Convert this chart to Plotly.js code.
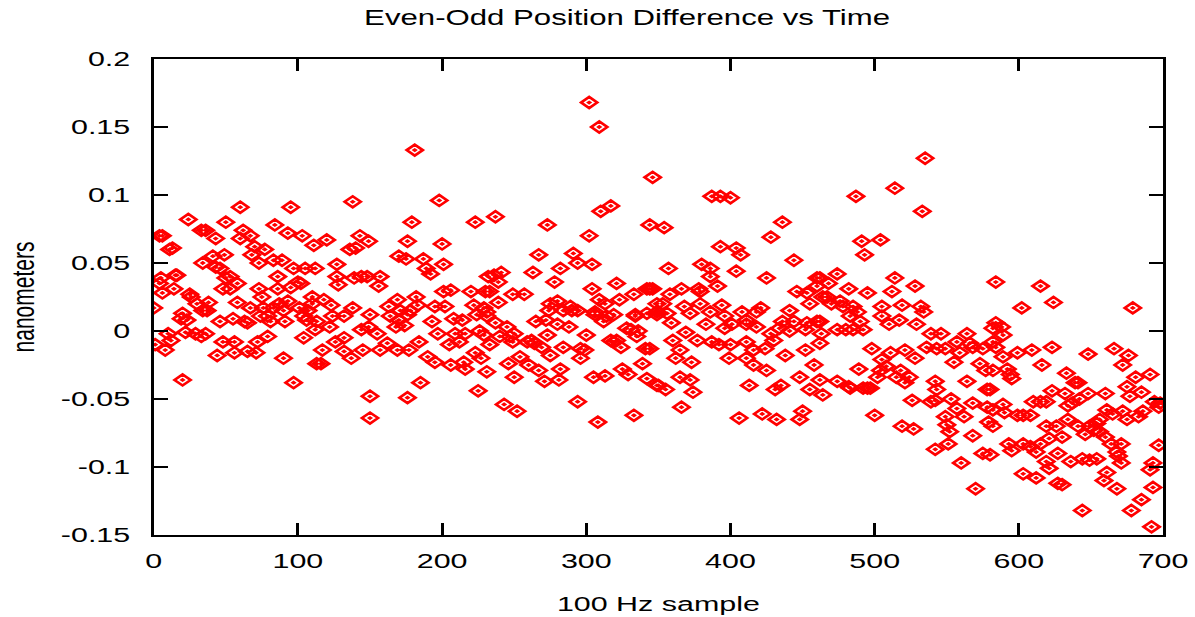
<!DOCTYPE html>
<html>
<head>
<meta charset="utf-8">
<script src="https://cdn.plot.ly/plotly-3.0.1.min.js"></script>
<style>
html,body{margin:0;padding:0;overflow:hidden;background:#fff;width:1195px;height:617px;}
#wrap{width:1195px;height:617px;overflow:hidden;}
#chart{width:824px;height:617px;transform:scaleX(1.4502);transform-origin:0 0;}
</style>
</head>
<body>
<div id="wrap"><div id="chart"></div></div>
<script>
const sampleIndex = [
0,1,4,6,5,4,6,8,10,12,11,13,14,15,16,19,20,20,23,24,25,26,22,29,30,33,34,34,33,36,36,37,38,41,43,43,44,46,46,48,48,49,50,50,53,53,55,56,56,58,58,60,60,62,63,65,65,67,67,68,70,71,72,73,73,74,75,76,77,79,79,81,83,83,84,86,86,87,89,90,90,91,93,93,95,95,97,97,100,101,102,103,104,104,105,107,106,110,110,111,112,112,113,113,116,117,
118,120,122,123,124,126,127,127,128,132,132,132,137,136,138,138,139,140,143,144,144,145,148,149,149,150,150,150,155,156,157,157,162,163,164,168,169,169,170,170,171,174,175,176,176,176,177,178,179,181,182,183,184,185,187,189,190,192,193,195,195,197,198,200,201,201,202,205,206,206,208,209,212,214,215,216,216,220,222,223,223,224,225,226,227,229,229,230,231,231,231,232,233,233,
236,237,237,239,239,240,241,243,245,246,247,249,249,250,250,252,254,257,259,260,262,263,264,265,267,267,269,271,272,273,273,274,275,275,278,280,280,281,282,282,284,284,288,289,290,291,294,294,294,296,296,299,300,302,302,304,304,305,306,306,308,309,309,310,312,313,313,314,317,317,319,319,321,321,323,324,325,328,329,331,333,333,334,334,335,336,339,341,342,342,342,344,344,344,346,346,349,349,349,349,
350,353,354,355,356,357,358,359,360,362,365,365,366,366,368,369,372,372,373,374,377,378,379,379,380,383,386,386,386,387,387,391,392,393,393,394,396,396,399,400,400,401,404,404,406,407,408,411,411,411,411,413,416,416,418,418,421,422,424,425,425,428,428,430,431,432,434,435,436,436,438,441,441,444,444,446,448,448,450,452,452,453,453,455,455,458,460,460,460,462,462,462,462,463,464,464,
467,468,470,474,474,474,476,478,480,482,482,483,483,485,485,487,488,489,490,491,492,492,493,495,495,497,498,500,502,504,504,505,505,505,508,510,511,512,514,514,515,517,518,519,519,521,521,524,526,527,528,528,529,532,533,534,535,536,539,539,542,542,542,543,543,546,549,549,550,551,552,553,555,557,557,559,560,562,564,564,566,568,568,568,570,573,575,575,577,578,578,579,
580,580,582,582,582,582,582,584,584,584,588,589,589,589,590,592,593,594,595,595,599,599,602,603,603,603,608,608,609,610,612,612,615,615,615,616,619,619,619,621,621,623,623,624,626,627,627,630,630,632,633,634,634,636,637,639,641,641,642,644,644,646,648,648,649,649,652,654,654,656,656,659,660,660,661,661,664,665,666,668,668,669,671,671,672,672,675,675,676,677,678,679,681,683,685,685,686,691,691,692,693,693,694,697,698,697
];
const positionDiff = [
0.017,-0.010,0.070,0.070,0.039,0.035,0.028,-0.014,-0.002,-0.007,0.060,0.061,0.031,0.041,0.041,0.009,0.013,-0.036,0.008,0.082,0.027,0.025,-0.001,-0.002,0.020,-0.004,0.050,0.015,0.074,0.074,-0.002,0.015,0.021,0.055,0.068,0.047,-0.018,0.046,0.007,0.031,-0.008,0.056,0.080,0.039,0.040,0.031,0.009,-0.008,-0.016,0.035,0.021,0.091,0.068,0.074,0.007,0.006,-0.015,0.070,0.017,0.056,0.062,-0.016,-0.008,0.031,0.050,0.011,0.025,0.017,0.060,0.011,-0.004,0.007,0.052,0.017,0.078,0.040,0.031,0.020,0.052,0.015,-0.020,0.007,0.072,0.022,0.032,0.091,0.046,-0.038,0.036,0.017,0.035,0.070,0.011,-0.005,0.046,0.015,0.008,0.025,0.020,0.063,0.046,0.001,-0.024,0.007,-0.024,-0.014,
0.023,0.067,0.003,0.019,0.011,-0.008,0.049,0.040,0.034,0.011,-0.005,-0.015,-0.020,0.060,0.095,0.017,0.039,0.061,0.070,0.040,0.001,-0.014,0.040,0.066,0.003,0.012,-0.048,-0.064,-0.002,0.033,0.040,-0.014,-0.009,0.018,0.011,0.003,0.023,-0.014,0.055,0.008,0.015,0.004,0.053,0.066,0.012,-0.049,-0.014,0.015,0.080,0.133,0.025,0.019,-0.008,-0.038,0.053,0.046,-0.019,0.042,0.007,0.018,-0.023,-0.002,0.096,0.064,0.049,0.029,0.018,-0.010,0.030,-0.025,0.009,-0.002,-0.008,0.008,-0.023,-0.002,-0.028,0.029,0.019,0.080,-0.016,0.012,-0.044,0.000,-0.020,0.017,-0.003,0.029,0.014,0.011,-0.030,0.040,0.029,-0.010,
0.041,0.084,0.006,0.036,0.021,-0.004,0.043,-0.054,0.003,-0.024,-0.004,0.027,-0.008,-0.002,-0.034,-0.059,-0.019,0.027,-0.008,-0.025,-0.007,0.043,-0.009,0.007,0.056,-0.029,-0.012,-0.037,0.008,0.078,-0.003,0.015,0.020,-0.018,0.036,0.022,0.005,-0.036,0.046,-0.028,0.015,-0.012,0.003,0.018,0.015,0.057,0.050,0.015,-0.052,-0.013,-0.020,-0.014,-0.003,0.168,0.070,0.049,0.031,-0.034,0.014,0.012,-0.067,0.150,0.023,0.088,0.007,0.020,-0.033,0.011,0.092,-0.007,0.012,-0.008,0.035,-0.007,0.023,-0.012,-0.028,0.002,-0.032,0.001,0.027,-0.062,0.011,0.012,-0.004,0.000,-0.024,-0.013,0.031,0.013,-0.035,0.078,0.031,-0.013,0.113,0.031,0.014,0.020,0.012,-0.040,
-0.040,0.020,0.076,-0.043,0.013,0.046,0.027,0.006,-0.007,-0.020,-0.014,-0.034,0.031,-0.056,0.018,-0.001,0.013,-0.036,-0.023,-0.045,-0.007,0.031,0.029,0.020,0.049,0.005,0.046,0.040,0.014,0.099,-0.008,0.033,-0.010,0.099,0.062,0.019,0.011,0.002,-0.020,0.098,-0.010,0.005,0.061,0.044,-0.064,0.056,0.014,0.008,0.005,-0.008,-0.020,-0.040,-0.014,-0.025,0.014,0.003,0.017,-0.061,-0.013,0.039,-0.029,0.069,-0.002,-0.007,-0.043,-0.065,0.002,-0.040,0.080,0.007,-0.018,0.015,0.000,0.007,0.052,0.029,-0.034,-0.065,-0.059,0.001,-0.014,0.028,0.006,0.020,-0.043,-0.025,0.039,0.033,0.007,0.039,0.007,-0.009,-0.036,-0.002,0.025,-0.047,
0.025,0.035,0.020,0.042,0.001,-0.037,0.022,0.018,0.001,0.031,-0.041,0.011,-0.042,0.018,0.001,0.099,0.014,-0.028,0.007,0.066,0.001,-0.042,0.056,0.028,-0.042,-0.042,-0.013,-0.062,-0.034,0.067,-0.029,0.018,0.011,-0.021,-0.026,0.005,-0.016,0.029,0.105,0.039,-0.034,0.008,-0.029,0.019,-0.070,-0.014,-0.038,-0.034,-0.051,-0.072,0.033,-0.020,0.005,0.018,0.088,0.014,0.127,-0.012,-0.002,-0.052,-0.037,-0.051,-0.087,-0.013,-0.043,-0.002,-0.013,-0.063,-0.069,-0.083,-0.074,-0.050,-0.023,-0.008,-0.057,-0.016,-0.097,-0.063,-0.002,-0.037,-0.009,-0.012,-0.053,-0.077,-0.116,-0.024,-0.013,-0.090,-0.029,-0.043,-0.056,-0.067,
-0.043,-0.091,0.002,-0.008,-0.058,-0.070,-0.029,0.006,0.036,-0.012,0.003,-0.003,-0.019,-0.054,-0.060,-0.028,-0.083,-0.032,-0.035,-0.088,-0.016,-0.062,0.017,-0.062,-0.083,-0.105,-0.062,-0.085,-0.014,-0.052,-0.089,-0.108,0.033,-0.052,-0.083,-0.025,-0.052,-0.070,-0.096,-0.079,-0.101,-0.012,-0.044,0.021,-0.070,-0.090,-0.112,-0.078,-0.113,-0.046,-0.031,-0.065,-0.055,-0.096,-0.053,-0.038,-0.038,-0.070,-0.050,-0.094,-0.132,-0.076,-0.017,-0.046,-0.070,-0.095,-0.073,-0.068,-0.094,-0.074,-0.065,-0.110,-0.078,-0.046,-0.058,-0.104,-0.083,-0.061,-0.013,-0.089,-0.116,-0.092,-0.083,-0.097,-0.025,-0.059,-0.065,-0.041,-0.018,-0.048,-0.132,0.017,-0.034,-0.063,-0.045,-0.124,-0.059,-0.032,-0.102,-0.144,-0.097,-0.115,-0.052,-0.056,-0.053,-0.084
];
const xTickVals = [0,100,200,300,400,500,600,700];
const xTickText = ["0","100","200","300","400","500","600","700"];
const yTickVals = [-0.15,-0.1,-0.05,0,0.05,0.1,0.15,0.2];
const yTickText = ["-0.15","-0.1","-0.05","0","0.05","0.1","0.15","0.2"];

const font = "Liberation Sans, Arial, Helvetica, sans-serif";
const trace = {
  x: sampleIndex, y: positionDiff, type: "scatter", mode: "markers",
  marker: {symbol: "diamond-open-dot", size: 8.5, color: "#ff0000", line: {color: "#ff0000", width: 2.3}},
  hoverinfo: "x+y", showlegend: false
};
const axisCommon = {
  showline: true, linecolor: "#000", linewidth: 2, mirror: "ticks",
  ticks: "inside", tickcolor: "#000", tickwidth: 2,
  showgrid: false, zeroline: false,
  tickfont: {family: font, size: 21, color: "#000"}
};
const layout = {
  width: 824, height: 617,
  margin: {l: 105.5, r: 22, t: 59, b: 82},
  paper_bgcolor: "#fff", plot_bgcolor: "#fff",
  title: {text: "Even-Odd Position Difference vs Time", font: {family: font, size: 21.5, color: "#000"},
          x: 0.469, xref: "paper", xanchor: "center", y: 0.971, yref: "container", yanchor: "middle"},
  xaxis: Object.assign({}, axisCommon, {
    range: [0, 700], tickmode: "array", tickvals: xTickVals, ticktext: xTickText, ticklen: 12,
    ticklabelstandoff: 6,
    title: {text: "100 Hz sample", font: {family: font, size: 21, color: "#000"}, standoff: 25}
  }),
  yaxis: Object.assign({}, axisCommon, {
    range: [-0.15, 0.2], tickmode: "array", tickvals: yTickVals, ticktext: yTickText, ticklen: 10,
    ticklabelstandoff: 10,
    title: {text: "nanometers", font: {family: font, size: 21, color: "#000"}, standoff: 12}
  })
};
Plotly.newPlot("chart", [trace], layout, {displayModeBar: false, responsive: false, staticPlot: false});
</script>
</body>
</html>
